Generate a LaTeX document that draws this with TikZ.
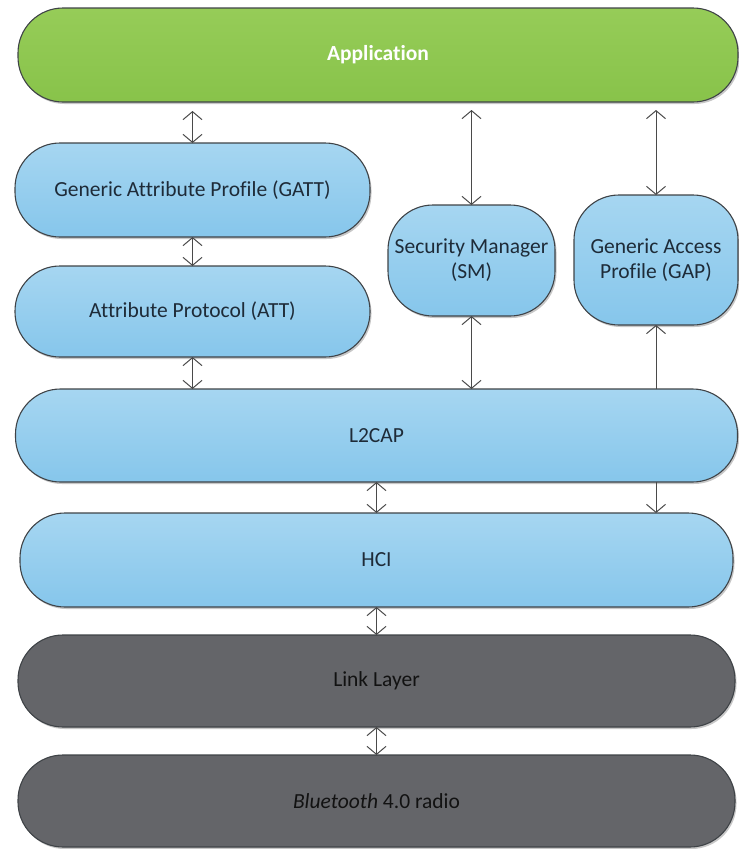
\documentclass[tikz,border=0pt]{standalone}
\usepackage{fontspec}
\setmainfont[Ligatures=NoCommon]{Carlito}
\usetikzlibrary{arrows.meta,shadows}

\definecolor{edge}{HTML}{3F4347}
\definecolor{arrowc}{HTML}{4A4A4A}
\definecolor{blueTop}{HTML}{A6D6F1}
\definecolor{blueBot}{HTML}{86C6EB}
\definecolor{greenTop}{HTML}{96CC58}
\definecolor{greenBot}{HTML}{88C34A}
\definecolor{darkFill}{HTML}{646569}
\definecolor{txtBlue}{HTML}{1E2B38}
\definecolor{txtDark}{HTML}{121212}

\tikzset{
  layer/.style={draw=edge, line width=1.1pt, rounded corners=45pt,
    inner sep=0pt, outer sep=0pt, align=center,
    font=\fontsize{21.5}{25}\selectfont,
    drop shadow={shadow xshift=1.5pt, shadow yshift=-2pt, opacity=0.22, fill=black}},
  bluebox/.style={layer, top color=blueTop, bottom color=blueBot, text=txtBlue},
  greenbox/.style={layer, top color=greenTop, bottom color=greenBot, text=white,
    font=\fontsize{21.5}{25}\selectfont\bfseries},
  darkbox/.style={layer, fill=darkFill, text=txtDark},
  conn/.style={draw=arrowc, line width=1pt},
  >={Straight Barb[length=8pt,width=19pt,line width=1pt]},
}

\begin{document}
\begin{tikzpicture}[x=1pt,y=-1pt]
\useasboundingbox (0,0) rectangle (739,849);

% protocol stack layers
\node[greenbox, minimum width=720pt, minimum height=94pt] (app) at (378,55) {Application};
\node[bluebox, minimum width=355pt, minimum height=94pt] (gatt) at (192.5,190) {Generic Attribute Profile (GATT)};
\node[bluebox, minimum width=355pt, minimum height=91pt] (att) at (192.5,311.5) {Attribute Protocol (ATT)};
\node[bluebox, minimum width=167pt, minimum height=111pt] (sm) at (471.5,260.5) {Security Manager\\(SM)};
\node[bluebox, minimum width=164pt, minimum height=130pt] (gap) at (656,260) {Generic Access\\Profile (GAP)};
\node[bluebox, minimum width=722pt, minimum height=93pt] (l2cap) at (376.5,435.5) {L2CAP};
\node[bluebox, minimum width=713pt, minimum height=94pt] (hci) at (376.5,560) {HCI};
\node[darkbox, minimum width=717pt, minimum height=92pt] (link) at (376.5,681) {Link Layer};
\node[darkbox, minimum width=717pt, minimum height=92pt] (radio) at (376.5,801) {\textit{Bluetooth} 4.0 radio};

% connections between layers
\draw[conn, <->, shorten <=9pt] (gatt.north |- app.south) -- (gatt.north);
\draw[conn, <->] (gatt.south) -- (att.north);
\draw[conn, <->] (att.south) -- (att.south |- l2cap.north);
\draw[conn, <->, shorten <=8pt] (sm.north |- app.south) -- (sm.north);
\draw[conn, <->] (sm.south) -- (sm.south |- l2cap.north);
\draw[conn, <->, shorten <=8pt] (gap.north |- app.south) -- (gap.north);
\draw[conn, ->] (gap.south |- l2cap.north) -- (gap.south);
\draw[conn, ->] (gap.south |- l2cap.south) -- (gap.south |- hci.north);
\draw[conn, <->] (l2cap.south) -- (l2cap.south |- hci.north);
\draw[conn, <->] (hci.south) -- (hci.south |- link.north);
\draw[conn, <->] (link.south) -- (radio.north);
\end{tikzpicture}
\end{document}
